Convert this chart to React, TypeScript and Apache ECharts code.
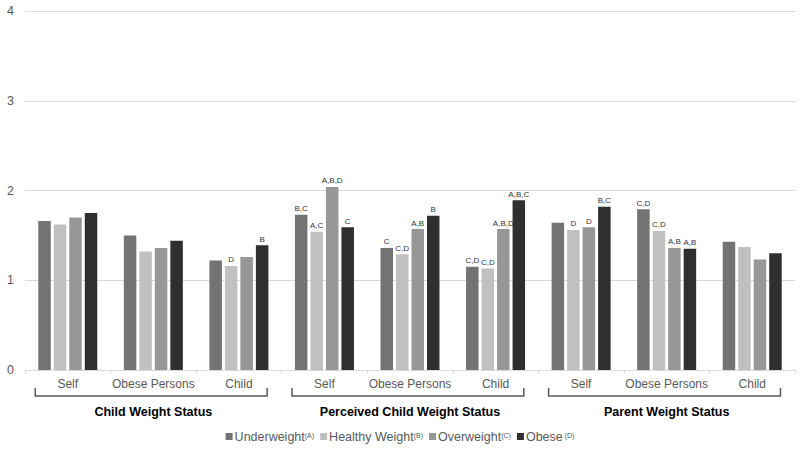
import React, { useEffect, useRef } from "react";
import * as echarts from "echarts";

const categories = ["Self", "Obese Persons", "Child", "Self", "Obese Persons", "Child", "Self", "Obese Persons", "Child"];
const groupTitles = ["Child Weight Status", "Perceived Child Weight Status", "Parent Weight Status"];
const seriesNames = ["Underweight", "Healthy Weight", "Overweight", "Obese"];
const seriesSup = ["(A)", "(B)", "(C)", " (D)"];
const seriesColors = ["#737373", "#c0c0c0", "#979797", "#2f2f2f"];

const underweight = [1.66, 1.50, 1.22, 1.73, 1.36, 1.15, 1.64, 1.79, 1.43];
const healthy = [1.62, 1.32, 1.16, 1.54, 1.29, 1.13, 1.56, 1.55, 1.37];
const overweight = [1.70, 1.36, 1.26, 2.04, 1.57, 1.57, 1.59, 1.36, 1.23];
const obese = [1.75, 1.44, 1.39, 1.59, 1.72, 1.89, 1.82, 1.35, 1.30];

const underweightSig = ["", "", "", "B,C", "C", "C,D", "", "C,D", ""];
const healthySig = ["", "", "D", "A,C", "C,D", "C,D", "D", "C,D", ""];
const overweightSig = ["", "", "", "A,B,D", "A,B", "A,B,D", "D", "A,B", ""];
const obeseSig = ["", "", "B", "C", "B", "A,B,C", "B,C", "A,B", ""];

const yTicks = [0, 1, 2, 3, 4];

const values = [underweight, healthy, overweight, obese];
const sigs = [underweightSig, healthySig, overweightSig, obeseSig];

export default function App() {
  const ref = useRef<HTMLDivElement>(null);
  useEffect(() => {
    if (!ref.current) return;
    const chart = echarts.init(ref.current, undefined, { renderer: "svg" });
    const font = "'Liberation Sans', Arial, sans-serif";
    const option: any = {
      animation: false,
      textStyle: { fontFamily: font },
      grid: { left: 25, right: 5, top: 11, bottom: 81, containLabel: false },
      legend: {
        bottom: 3,
        left: "center",
        icon: "rect",
        itemWidth: 7,
        itemHeight: 7,
        itemGap: 6,
        data: seriesNames,
        formatter: (name: string) => {
          const i = seriesNames.indexOf(name);
          return `{n|${name}}{s|${seriesSup[i]}}`;
        },
        textStyle: {
          color: "#595959",
          fontFamily: font,
          padding: [0, 0, 0, -3],
          rich: {
            n: { fontSize: 12.5, color: "#595959", fontFamily: font },
            s: { fontSize: 7, color: "#595959", fontFamily: font, padding: [0, 0, 3, 0] },
          },
        },
      },
      xAxis: [
        {
          type: "category",
          data: categories,
          position: "bottom",
          axisLine: { lineStyle: { color: "#d9d9d9" } },
          axisTick: { show: true, length: 4, lineStyle: { color: "#d9d9d9" } },
          axisLabel: { color: "#595959", fontSize: 12, margin: 8, fontFamily: font, interval: 0 },
        },
        {
          type: "category",
          data: groupTitles,
          position: "bottom",
          offset: 35,
          axisLine: { show: false },
          axisTick: { show: false },
          axisLabel: { color: "#000000", fontSize: 12.5, fontWeight: "bold", margin: 0, fontFamily: font, interval: 0 },
        },
      ],
      yAxis: {
        type: "value",
        min: yTicks[0],
        max: yTicks[yTicks.length - 1],
        interval: 1,
        axisLine: { show: false },
        axisTick: { show: false },
        axisLabel: { color: "#595959", fontSize: 12.5, margin: 11, fontFamily: font },
        splitLine: { lineStyle: { color: "#d9d9d9" } },
      },
      series: seriesNames.map((name, si) => ({
        name,
        type: "bar",
        xAxisIndex: 0,
        data: values[si],
        barWidth: 12.5,
        barGap: "24%",
        itemStyle: { color: seriesColors[si] },
        label: {
          show: true,
          position: "top",
          distance: 2,
          fontSize: 8,
          color: "#333333",
          fontFamily: font,
          formatter: (p: any) => sigs[si][p.dataIndex],
        },
      })),
    };
    chart.setOption(option);

    const graphics: any[] = [];
    const y0 = chart.convertToPixel({ yAxisIndex: 0 }, 0) as number;
    const rect = (chart as any).getModel().getComponent("grid", 0).coordinateSystem.getRect();
    const bw = rect.width / categories.length;
    const center = (i: number) => rect.x + bw * (i + 0.5);
    for (let g = 0; g < groupTitles.length; g++) {
      const lx = center(3 * g) - 0.38 * bw;
      const rx = center(3 * g + 2) + 0.33 * bw;
      graphics.push({
        type: "polyline",
        shape: { points: [[lx, y0 + 18], [lx, y0 + 26], [rx, y0 + 26], [rx, y0 + 18]] },
        style: { stroke: "#595959", lineWidth: 1.5, fill: null },
        silent: true,
      });
    }
    chart.setOption({ graphic: graphics });

    return () => chart.dispose();
  }, []);
  return <div ref={ref} style={{ width: 800, height: 451, position: "absolute", left: 0, top: 0 }} />;
}
